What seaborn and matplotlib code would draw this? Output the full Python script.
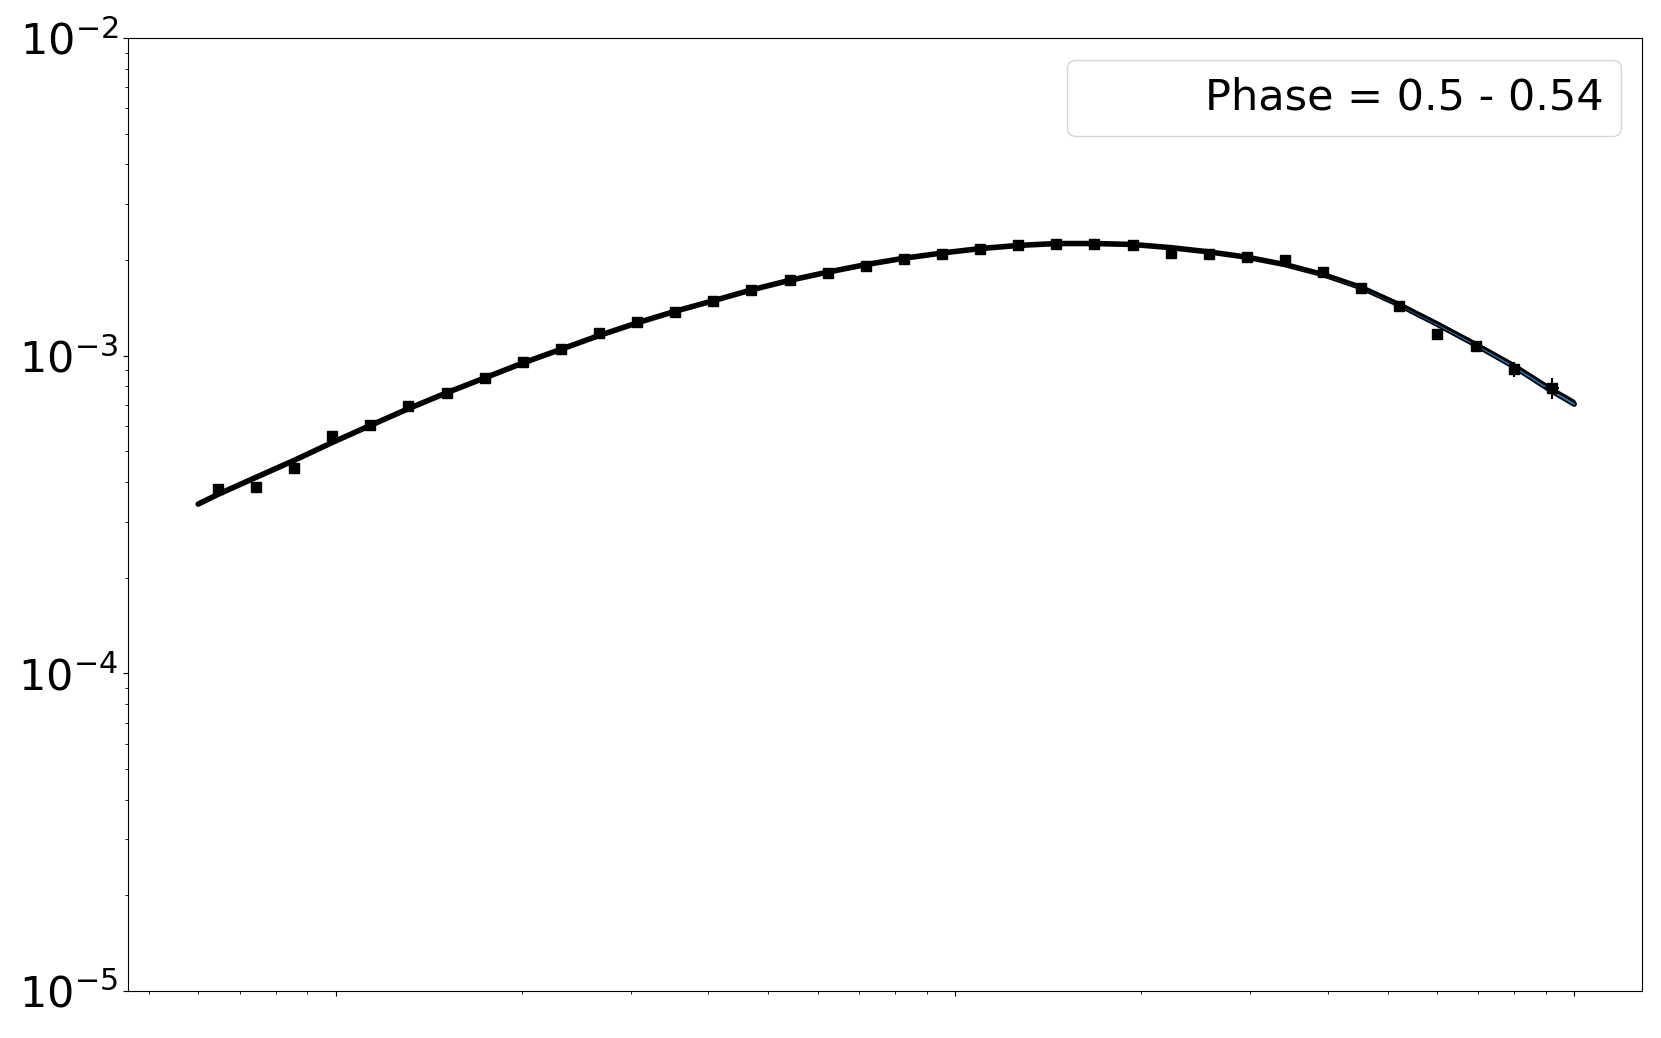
import matplotlib
matplotlib.use("Agg")
import matplotlib.pyplot as plt
import matplotlib.patheffects as pe
import seaborn as sns
import pandas as pd

# observed spectrum (energy, flux, error)
energy = [0.646, 0.744, 0.857, 0.988, 1.138, 1.311, 1.511, 1.741, 2.006, 2.311,
          2.663, 3.068, 3.536, 4.074, 4.693, 5.409, 6.232, 7.181, 8.274, 9.532,
          10.98, 12.66, 14.58, 16.80, 19.36, 22.31, 25.70, 29.61, 34.13, 39.32,
          45.32, 52.21, 60.15, 69.31, 79.85, 92.03]
flux = [3.80e-4, 3.86e-4, 4.44e-4, 5.58e-4, 6.03e-4, 6.92e-4, 7.64e-4, 8.51e-4, 9.55e-4, 1.047e-3,
        1.175e-3, 1.279e-3, 1.371e-3, 1.489e-3, 1.611e-3, 1.726e-3, 1.820e-3, 1.919e-3, 2.009e-3, 2.089e-3,
        2.173e-3, 2.223e-3, 2.254e-3, 2.239e-3, 2.223e-3, 2.104e-3, 2.089e-3, 2.042e-3, 1.995e-3, 1.832e-3,
        1.633e-3, 1.435e-3, 1.167e-3, 1.072e-3, 9.06e-4, 7.89e-4]
flux_err = [1.0e-5, 1.0e-5, 1.0e-5, 1.0e-5, 1.0e-5, 1.0e-5, 1.0e-5, 1.0e-5, 1.0e-5, 1.0e-5,
            1.0e-5, 1.0e-5, 1.0e-5, 1.0e-5, 1.0e-5, 1.0e-5, 1.0e-5, 1.0e-5, 1.5e-5, 1.5e-5,
            1.5e-5, 1.5e-5, 1.5e-5, 1.5e-5, 1.5e-5, 2.0e-5, 2.0e-5, 2.5e-5, 3.5e-5, 3.5e-5,
            3.0e-5, 3.0e-5, 3.5e-5, 4.0e-5, 5.0e-5, 6.0e-5]
energy_err = [0.0] * 35 + [2.5]

# model curves
model_energy = [0.600] + energy + [100.0]
model_black = [3.41e-4, 3.66e-4, 4.14e-4, 4.68e-4, 5.33e-4, 6.03e-4, 6.81e-4, 7.64e-4, 8.51e-4, 9.48e-4,
               1.047e-3, 1.157e-3, 1.268e-3, 1.380e-3, 1.489e-3, 1.611e-3, 1.726e-3, 1.832e-3, 1.935e-3, 2.026e-3,
               2.104e-3, 2.173e-3, 2.223e-3, 2.254e-3, 2.254e-3, 2.239e-3, 2.188e-3, 2.122e-3, 2.042e-3, 1.935e-3,
               1.806e-3, 1.647e-3, 1.456e-3, 1.268e-3, 1.096e-3, 9.40e-4, 7.89e-4, 7.19e-4]
model_blue = [3.41e-4, 3.66e-4, 4.14e-4, 4.68e-4, 5.33e-4, 6.03e-4, 6.81e-4, 7.64e-4, 8.51e-4, 9.48e-4,
              1.047e-3, 1.157e-3, 1.268e-3, 1.380e-3, 1.489e-3, 1.611e-3, 1.726e-3, 1.832e-3, 1.935e-3, 2.026e-3,
              2.104e-3, 2.173e-3, 2.223e-3, 2.254e-3, 2.254e-3, 2.239e-3, 2.188e-3, 2.122e-3, 2.042e-3, 1.935e-3,
              1.800e-3, 1.638e-3, 1.445e-3, 1.255e-3, 1.082e-3, 9.25e-4, 7.74e-4, 7.04e-4]

phase_label = "Phase = 0.5 - 0.54"

sns.set_style("ticks")
plt.rcParams["font.family"] = ["DejaVu Sans"]

model_df = pd.DataFrame({"energy": model_energy, "black": model_black, "blue": model_blue})

fig = plt.figure(figsize=(16.61, 10.38), dpi=100)
ax = fig.add_axes([0.077, 0.0453, 0.9116, 0.9181])

ax.errorbar(energy, flux, yerr=flux_err, xerr=energy_err, fmt="s", color="black",
            ms=7, elinewidth=1.5, capsize=0, zorder=3)
sns.lineplot(data=model_df, x="energy", y="blue", ax=ax, color="#1f77b4", lw=1.5,
             path_effects=[pe.Stroke(linewidth=4, foreground="black"), pe.Normal()], zorder=2)
sns.lineplot(data=model_df, x="energy", y="black", ax=ax, color="black", lw=2, zorder=2)

ax.plot([], [], " ", label=phase_label)

ax.set_xscale("log")
ax.set_yscale("log")
ax.set_xlim(0.462, 128.7)
ax.set_ylim(1e-5, 1e-2)
ax.set_xlabel("")
ax.set_ylabel("")
ax.tick_params(axis="x", which="both", labelbottom=False)
ax.tick_params(axis="y", which="major", labelsize=31, labelcolor="black")
for s in ax.spines.values():
    s.set_color("black")
ax.tick_params(which="both", color="black")

leg = ax.legend(loc="upper right", fontsize=31, frameon=True)
for t in leg.get_texts():
    t.set_color("black")

fig.savefig("out.png", dpi=100)
